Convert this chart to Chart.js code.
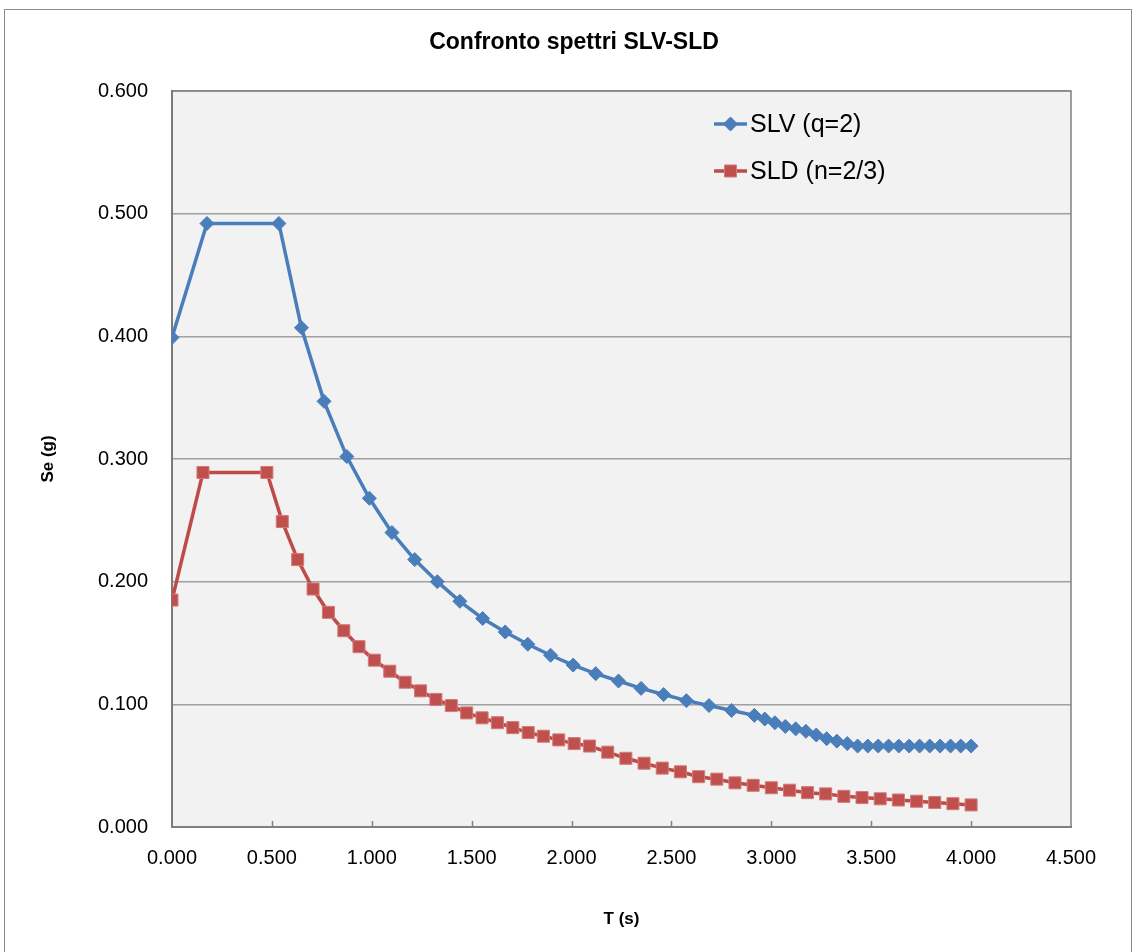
<!DOCTYPE html>
<html>
<head>
<meta charset="utf-8">
<script src="https://cdn.jsdelivr.net/npm/chart.js@4/dist/chart.umd.min.js"></script>
<style>
  html, body { margin: 0; padding: 0; background: #ffffff; }
  #wrap { width: 1136px; height: 952px; position: relative; }
</style>
</head>
<body>
<div id="wrap"><canvas id="c" width="1136" height="952"></canvas></div>
<script>
const chartTitle = 'Confronto spettri SLV-SLD';
const xTitle = 'T (s)';
const yTitle = 'Se (g)';
const seriesNames = ['SLV (q=2)', 'SLD (n=2/3)'];

const slvT = [0.000, 0.175, 0.535, 0.648, 0.761, 0.875, 0.988, 1.101, 1.215, 1.328, 1.441, 1.555, 1.668, 1.781, 1.895, 2.008, 2.121, 2.235, 2.348, 2.461, 2.575, 2.688, 2.801, 2.915, 2.967, 3.018, 3.070, 3.122, 3.173, 3.225, 3.277, 3.328, 3.380, 3.432, 3.483, 3.535, 3.587, 3.638, 3.690, 3.742, 3.793, 3.845, 3.897, 3.948, 4.000];
const slvSe = [0.399, 0.492, 0.492, 0.407, 0.347, 0.302, 0.268, 0.240, 0.218, 0.200, 0.184, 0.170, 0.159, 0.149, 0.140, 0.132, 0.125, 0.119, 0.113, 0.108, 0.103, 0.099, 0.095, 0.091, 0.088, 0.085, 0.082, 0.080, 0.078, 0.075, 0.072, 0.070, 0.068, 0.066, 0.066, 0.066, 0.066, 0.066, 0.066, 0.066, 0.066, 0.066, 0.066, 0.066, 0.066];

const sldT = [0.000, 0.155, 0.475, 0.552, 0.629, 0.706, 0.783, 0.860, 0.936, 1.013, 1.090, 1.167, 1.244, 1.321, 1.398, 1.475, 1.552, 1.629, 1.706, 1.783, 1.859, 1.936, 2.013, 2.090, 2.181, 2.272, 2.363, 2.454, 2.545, 2.636, 2.727, 2.818, 2.909, 3.000, 3.091, 3.181, 3.272, 3.363, 3.454, 3.545, 3.636, 3.727, 3.818, 3.909, 4.000];
const sldSe = [0.185, 0.289, 0.289, 0.249, 0.218, 0.194, 0.175, 0.160, 0.147, 0.136, 0.127, 0.118, 0.111, 0.104, 0.099, 0.093, 0.089, 0.085, 0.081, 0.077, 0.074, 0.071, 0.068, 0.066, 0.061, 0.056, 0.052, 0.048, 0.045, 0.041, 0.039, 0.036, 0.034, 0.032, 0.030, 0.028, 0.027, 0.025, 0.024, 0.023, 0.022, 0.021, 0.020, 0.019, 0.018];

const xMin = 0, xMax = 4.5, xStep = 0.5;
const yMin = 0, yMax = 0.6, yStep = 0.1;

const FONT = "'Liberation Sans', Arial, sans-serif";

const toPoints = (xs, ys) => xs.map((x, i) => ({ x: x, y: ys[i] }));

const frame = {
  id: 'frame',
  beforeDraw(chart) {
    const ctx = chart.ctx, a = chart.chartArea;
    ctx.save();
    ctx.fillStyle = '#ffffff';
    ctx.fillRect(0, 0, chart.width, chart.height);
    ctx.strokeStyle = '#8c8c8c';
    ctx.lineWidth = 1;
    ctx.strokeRect(4.5, 9.5, 1127, 960);
    ctx.fillStyle = '#f2f2f2';
    ctx.fillRect(a.left, a.top, a.right - a.left, a.bottom - a.top);
    ctx.restore();
  },
  beforeDatasetsDraw(chart) {
    const ctx = chart.ctx, a = chart.chartArea, xs = chart.scales.x;
    ctx.save();
    ctx.strokeStyle = '#808080';
    ctx.lineWidth = 1.5;
    ctx.beginPath();
    ctx.moveTo(a.left, a.top); ctx.lineTo(a.right, a.top); ctx.lineTo(a.right, a.bottom);
    ctx.stroke();
    ctx.lineWidth = 1.5;
    xs.ticks.forEach(t => {
      if (t.value <= xMin || t.value >= xMax) return;
      const px = Math.round(xs.getPixelForValue(t.value)) + 0.5;
      ctx.beginPath();
      ctx.moveTo(px, a.bottom);
      ctx.lineTo(px, a.bottom - 6);
      ctx.stroke();
    });
    ctx.restore();
  }
};

const insideLegend = {
  id: 'insideLegend',
  afterDatasetsDraw(chart) {
    const ctx = chart.ctx, a = chart.chartArea;
    const x0 = a.left + 542, x1 = a.left + 575, tx = a.left + 578;
    const rows = [a.top + 33, a.top + 80];
    ctx.save();
    chart.data.datasets.forEach((ds, i) => {
      const y = rows[i];
      ctx.strokeStyle = ds.borderColor;
      ctx.lineWidth = ds.borderWidth;
      ctx.beginPath(); ctx.moveTo(x0, y); ctx.lineTo(x1, y); ctx.stroke();
      ctx.fillStyle = ds.pointBackgroundColor;
      ctx.strokeStyle = ds.pointBorderColor;
      ctx.lineWidth = ds.pointBorderWidth;
      Chart.helpers.drawPoint(ctx, { pointStyle: ds.pointStyle, radius: ds.pointRadius, borderWidth: ds.pointBorderWidth, rotation: 0 }, (x0 + x1) / 2, y);
      ctx.fillStyle = '#000000';
      ctx.font = '25px ' + FONT;
      ctx.textAlign = 'left';
      ctx.textBaseline = 'middle';
      ctx.fillText(ds.label, tx, y + 1);
    });
    ctx.restore();
  }
};

new Chart(document.getElementById('c'), {
  type: 'line',
  data: {
    datasets: [
      {
        label: seriesNames[0],
        data: toPoints(slvT, slvSe),
        borderColor: '#4a7ebb',
        backgroundColor: '#4a7ebb',
        borderWidth: 3.5,
        pointStyle: 'rectRot',
        pointRadius: 7,
        pointBorderWidth: 1,
        pointBackgroundColor: '#4a7ebb',
        pointBorderColor: '#4a7ebb',
        tension: 0,
        fill: false
      },
      {
        label: seriesNames[1],
        data: toPoints(sldT, sldSe),
        borderColor: '#be4b48',
        backgroundColor: '#c0504d',
        borderWidth: 3.5,
        pointStyle: 'rect',
        pointRadius: 8.5,
        pointBorderWidth: 1,
        pointBackgroundColor: '#c0504d',
        pointBorderColor: '#d27b78',
        tension: 0,
        fill: false
      }
    ]
  },
  options: {
    responsive: false,
    animation: false,
    devicePixelRatio: 1,
    layout: { padding: { left: 12, right: 0, top: 0, bottom: 0 } },
    plugins: {
      legend: { display: false },
      tooltip: { enabled: false },
      title: {
        display: true,
        text: chartTitle,
        color: '#000000',
        font: { family: FONT, size: 23, weight: 'bold' },
        padding: { top: 29, bottom: 34.4 }
      }
    },
    scales: {
      x: {
        type: 'linear',
        min: xMin, max: xMax,
        grid: { display: false, drawTicks: false },
        border: { display: true, color: '#808080', width: 2 },
        ticks: {
          stepSize: xStep,
          padding: 19,
          color: '#000000',
          font: { family: FONT, size: 20 },
          maxRotation: 0,
          callback: v => Number(v).toFixed(3)
        },
        title: {
          display: true,
          text: xTitle,
          color: '#000000',
          font: { family: FONT, size: 17, weight: 'bold' },
          padding: { top: 0, bottom: 22 }
        },
        afterFit: s => { s.height = 125; }
      },
      y: {
        type: 'linear',
        position: 'left',
        min: yMin, max: yMax,
        grid: { display: true, drawTicks: false, color: '#a0a0a0', lineWidth: 1.5 },
        border: { display: true, color: '#7a7a7a', width: 2 },
        ticks: {
          stepSize: yStep,
          padding: 24,
          color: '#000000',
          font: { family: FONT, size: 20 },
          callback: v => Number(v).toFixed(3)
        },
        title: {
          display: true,
          text: yTitle,
          color: '#000000',
          font: { family: FONT, size: 17, weight: 'bold' },
          padding: { top: 26, bottom: 0 }
        },
        afterFit: s => { s.width = 160; }
      },
      yRight: {
        type: 'linear',
        position: 'right',
        display: true,
        grid: { display: false, drawTicks: false },
        border: { display: false },
        ticks: { display: false },
        afterFit: s => { s.width = 65; }
      }
    }
  },
  plugins: [frame, insideLegend]
});
</script>
</body>
</html>
